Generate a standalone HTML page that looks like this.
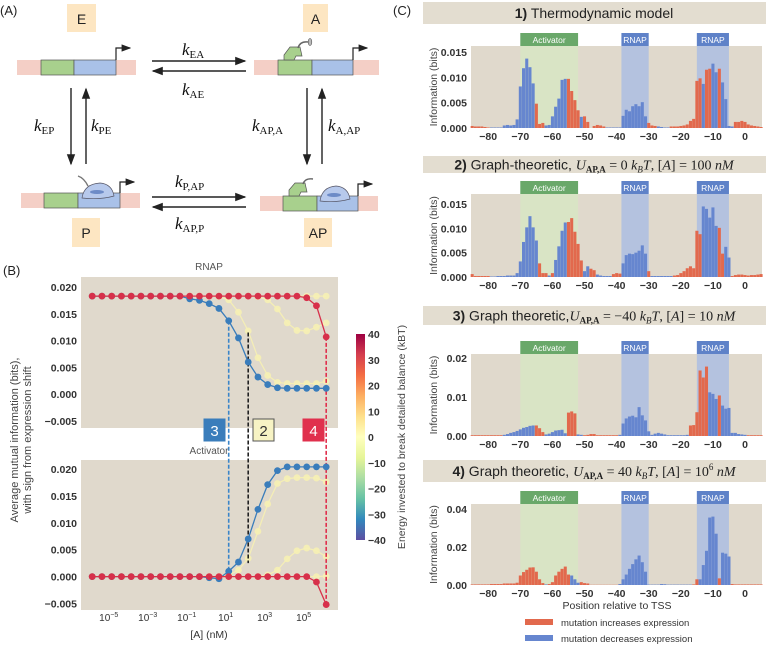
<!DOCTYPE html>
<html><head><meta charset="utf-8">
<style>
html,body{margin:0;padding:0;background:#fff;}
svg{display:block;font-family:"Liberation Sans",sans-serif;}
.tk{font-size:10.5px;font-weight:bold;fill:#333;}
.ser{font-family:"Liberation Serif",serif;}
</style></head>
<body>
<svg id="fig" width="766" height="645" viewBox="0 0 766 645" xmlns="http://www.w3.org/2000/svg">
<defs>
<marker id="ah" markerWidth="8" markerHeight="8" refX="7" refY="4" orient="auto"><path d="M0,1 L8,4 L0,7 Z" fill="#222"/></marker>
<linearGradient id="cbg" x1="0" y1="1" x2="0" y2="0">
<stop offset="0" stop-color="#5e4fa2"/><stop offset="0.1" stop-color="#3288bd"/><stop offset="0.2" stop-color="#66c2a5"/><stop offset="0.3" stop-color="#abdda4"/><stop offset="0.4" stop-color="#e6f598"/><stop offset="0.5" stop-color="#ffffbf"/><stop offset="0.6" stop-color="#fee08b"/><stop offset="0.7" stop-color="#fdae61"/><stop offset="0.8" stop-color="#f46d43"/><stop offset="0.9" stop-color="#d53e4f"/><stop offset="1" stop-color="#9e0142"/>
</linearGradient>
</defs>

<!-- Panel A -->
<g>
<text x="0" y="15" font-size="13" fill="#222">(A)</text>
<g>
<rect x="67" y="4" width="29" height="28" fill="#fde6c2"/>
<text x="81.5" y="24" font-size="14" text-anchor="middle" fill="#222">E</text>
<rect x="17" y="60" width="119" height="15" fill="#f4cfc6"/>
<rect x="41" y="60" width="33" height="15" fill="#a8d08d" stroke="#555" stroke-width="0.7"/>
<rect x="74" y="60" width="42" height="15" fill="#a9c1e8" stroke="#555" stroke-width="0.7"/>
<path d="M116,60 V48 H130" fill="none" stroke="#222" stroke-width="1.2" marker-end="url(#ah)"/>
</g>
<g>
<rect x="303" y="4" width="25" height="28" fill="#fde6c2"/>
<text x="315.5" y="24" font-size="14" text-anchor="middle" fill="#222">A</text>
<rect x="254" y="60" width="125" height="15" fill="#f4cfc6"/>
<rect x="278" y="60" width="34" height="15" fill="#a8d08d" stroke="#555" stroke-width="0.7"/>
<rect x="312" y="60" width="41" height="15" fill="#a9c1e8" stroke="#555" stroke-width="0.7"/>
<path d="M284,60 V55 L290,47 H300 L302,56 H296 L294,60 Z" fill="#a8d08d" stroke="#555" stroke-width="0.7"/>
<path d="M298,48 Q300,41 308,42" fill="none" stroke="#666" stroke-width="1.5"/>
<ellipse cx="310" cy="42" rx="1.8" ry="3.5" fill="#bbb" stroke="#555" stroke-width="0.6"/>
<path d="M353,60 V48 H367" fill="none" stroke="#222" stroke-width="1.2" marker-end="url(#ah)"/>
</g>
<g>
<rect x="72" y="218" width="28" height="29" fill="#fde6c2"/>
<text x="86" y="238" font-size="14" text-anchor="middle" fill="#222">P</text>
<rect x="21" y="193" width="119" height="15" fill="#f4cfc6"/>
<rect x="44" y="193" width="34" height="15" fill="#a8d08d" stroke="#555" stroke-width="0.7"/>
<rect x="78" y="193" width="42" height="15" fill="#a9c1e8" stroke="#555" stroke-width="0.7"/>
<path d="M82,198 Q84,184 100,183 Q112,184 114,196 Q100,200 82,198 Z" fill="#b7c9ec" stroke="#556" stroke-width="0.7"/>
<ellipse cx="97" cy="192" rx="7" ry="2" fill="#6d8bc7"/>
<path d="M88,186 Q84,178 78,176" fill="none" stroke="#777" stroke-width="1.4"/>
<path d="M120,193 V182 H134" fill="none" stroke="#222" stroke-width="1.2" marker-end="url(#ah)"/>
</g>
<g>
<rect x="304" y="218" width="28" height="29" fill="#fde6c2"/>
<text x="318" y="238" font-size="14" text-anchor="middle" fill="#222">AP</text>
<rect x="260" y="196" width="118" height="15" fill="#f4cfc6"/>
<rect x="283" y="196" width="34" height="15" fill="#a8d08d" stroke="#555" stroke-width="0.7"/>
<rect x="317" y="196" width="41" height="15" fill="#a9c1e8" stroke="#555" stroke-width="0.7"/>
<path d="M289,196 V190 L295,183 H305 L307,192 H301 L299,196 Z" fill="#a8d08d" stroke="#555" stroke-width="0.7"/>
<path d="M320,201 Q322,187 336,186 Q348,187 350,199 Q336,203 320,201 Z" fill="#b7c9ec" stroke="#556" stroke-width="0.7"/>
<ellipse cx="334" cy="195" rx="7" ry="2" fill="#6d8bc7"/>
<path d="M303,184 Q305,178 313,179" fill="none" stroke="#666" stroke-width="1.4"/>
<path d="M358,196 V184 H372" fill="none" stroke="#222" stroke-width="1.2" marker-end="url(#ah)"/>
</g>
<g stroke="#222" stroke-width="1.4">
<line x1="152" y1="61" x2="245" y2="61" marker-end="url(#ah)"/>
<line x1="246" y1="71" x2="153" y2="71" marker-end="url(#ah)"/>
<line x1="71" y1="88" x2="71" y2="164" marker-end="url(#ah)"/>
<line x1="86" y1="164" x2="86" y2="89" marker-end="url(#ah)"/>
<line x1="307" y1="88" x2="307" y2="164" marker-end="url(#ah)"/>
<line x1="322" y1="164" x2="322" y2="89" marker-end="url(#ah)"/>
<line x1="152" y1="197" x2="245" y2="197" marker-end="url(#ah)"/>
<line x1="246" y1="207" x2="153" y2="207" marker-end="url(#ah)"/>
</g>
<g class="ser" font-size="17" fill="#111">
<text x="182" y="55"><tspan font-style="italic">k</tspan><tspan font-size="11" dy="3">EA</tspan></text>
<text x="182" y="95"><tspan font-style="italic">k</tspan><tspan font-size="11" dy="3">AE</tspan></text>
<text x="34" y="131"><tspan font-style="italic">k</tspan><tspan font-size="11" dy="3">EP</tspan></text>
<text x="91" y="131"><tspan font-style="italic">k</tspan><tspan font-size="11" dy="3">PE</tspan></text>
<text x="252" y="131"><tspan font-style="italic">k</tspan><tspan font-size="11" dy="3">AP,A</tspan></text>
<text x="328" y="131"><tspan font-style="italic">k</tspan><tspan font-size="11" dy="3">A,AP</tspan></text>
<text x="175" y="187"><tspan font-style="italic">k</tspan><tspan font-size="11" dy="3">P,AP</tspan></text>
<text x="175" y="229"><tspan font-style="italic">k</tspan><tspan font-size="11" dy="3">AP,P</tspan></text>
</g>
</g>

<text x="3" y="275" font-size="13" fill="#222">(B)</text>
<text x="393" y="15" font-size="13" fill="#222">(C)</text>
<g id="panelB"></g>
<g id="panelC"></g>
</svg>

<script>
// ---------- Panel B data ----------
const logConc = [-6,-5.5,-5,-4.5,-4,-3.5,-3,-2.5,-2,-1.5,-1,-0.5,0,0.5,1,1.5,2,2.5,3,3.5,4,4.5,5,5.5,6];
const rnapRed = [0.0183,0.0183,0.0183,0.0183,0.0183,0.0183,0.0183,0.0183,0.0183,0.0183,0.0183,0.0183,0.0183,0.0183,0.0183,0.0183,0.0183,0.0183,0.0183,0.0183,0.0183,0.0183,0.0180,0.0165,0.0107];
const rnapBlue = [0.0183,0.0183,0.0183,0.0183,0.0183,0.0183,0.0183,0.0183,0.0183,0.0183,0.0178,0.0175,0.0169,0.0160,0.0137,0.0105,0.0060,0.0032,0.0018,0.0012,0.0011,0.0011,0.0011,0.0011,0.0011];
const rnapYellowA = [0.0183,0.0183,0.0183,0.0183,0.0183,0.0183,0.0183,0.0183,0.0183,0.0183,0.0183,0.0183,0.0183,0.0182,0.0176,0.0153,0.0118,0.0068,0.0035,0.0022,0.0020,0.0020,0.0020,0.0020,0.0024];
const rnapYellowB = [0.0183,0.0183,0.0183,0.0183,0.0183,0.0183,0.0183,0.0183,0.0183,0.0183,0.0183,0.0183,0.0183,0.0183,0.0183,0.0183,0.0183,0.0182,0.0176,0.0159,0.0133,0.0119,0.0118,0.0125,0.0133];
const rnapYellowC = [0.0183,0.0183,0.0183,0.0183,0.0183,0.0183,0.0183,0.0183,0.0183,0.0183,0.0183,0.0183,0.0183,0.0183,0.0183,0.0183,0.0183,0.0183,0.0183,0.0183,0.0183,0.0183,0.0183,0.0183,0.0183];
const actRed = [0,0,0,0,0,0,0,0,0,0,0,0,0,0,0,0,0,0,0,0,0,0,0,-0.0010,-0.0052];
const actBlue = [0,0,0,0,0,0,0,0,0,0,0,0,-0.0002,-0.0004,0.0010,0.0027,0.0070,0.0125,0.0171,0.0197,0.0204,0.0204,0.0204,0.0204,0.0204];
const actYellowA = [0,0,0,0,0,0,0,0,0,0,0,0,0,0,0.0003,0.0012,0.0034,0.0084,0.0135,0.0173,0.0182,0.0184,0.0184,0.0183,0.0176];
const actYellowB = [0,0,0,0,0,0,0,0,0,0,0,0,0,0,0,0,0,0,0.0003,0.0012,0.0033,0.0048,0.0053,0.0048,0.0037];
const actYellowC = [0,0,0,0,0,0,0,0,0,0,0,0,0,0,0,0,0,0,0,0,0,0,0,0,0.0001];
const bYTicks = [0.020,0.015,0.010,0.005,0.000,-0.005];
const bYTickLabels = ["0.020","0.015","0.010","0.005","0.000","\u22120.005"];
const bXTicks = [-5,-3,-1,1,3,5];
const bXTickLabels = ["\u22125","\u22123","\u22121","1","3","5"];
const cbTicks = [40,30,20,10,0,-10,-20,-30,-40];
const cbTickLabels = ["40","30","20","10","0","\u221210","\u221220","\u221230","\u221240"];

// ---------- Panel C data (signed: + increases expression, - decreases) ----------
const positions = [];
for (let p = -85; p <= 5; p++) positions.push(p);
const info1 = [0.0004,0.0003,0.0003,0.0003,0.0002,0.0001,-0.0001,-0.0001,-0.0001,-0.0001,-0.0005,-0.0006,-0.0005,-0.0006,-0.0017,-0.0082,-0.0118,-0.0137,-0.0120,-0.0088,0.0048,0.0008,0.0010,-0.0005,-0.0006,-0.0023,-0.0042,-0.0058,-0.0095,-0.0097,0.0097,0.0073,0.0055,0.0035,-0.0022,0.0023,0.0012,0,0.0004,0.0006,0.0005,0.0003,-0.0001,-0.0001,-0.0001,-0.0001,-0.0001,-0.0024,-0.0036,-0.0033,-0.0043,-0.0047,-0.0043,-0.0051,-0.0023,0.0010,0.0005,0.0004,-0.0003,-0.0002,-0.0001,-0.0001,0.0003,0.0003,0.0003,0.0004,0.0005,0.0007,0.0014,0.0018,0.0093,0.0098,-0.0087,0.0115,0.0117,-0.0127,-0.0110,0.0117,-0.0090,-0.0057,-0.0004,-0.0003,0.0012,0.0012,0.0014,0.0012,0.0007,0.0005,0.0004,0.0003,0.0002];
const info2 = [0.0006,0.0002,0.0002,0.0002,0.0002,0.0002,-0.0001,-0.0001,-0.0002,-0.0002,-0.0002,-0.0003,-0.0003,-0.0003,-0.0008,-0.0032,-0.0072,-0.0102,-0.0125,-0.0102,-0.0075,0.0028,0.0008,0.0008,-0.0003,0.0008,-0.0035,-0.0063,-0.0095,-0.0112,0.0113,0.0121,0.0093,0.0068,0.0034,-0.0012,-0.0022,0.0017,0.0014,-0.0005,-0.0003,-0.0002,-0.0002,-0.0002,0.0006,0.0008,0.0007,-0.0028,-0.0045,-0.0048,-0.0047,-0.0050,-0.0054,-0.0065,-0.0048,0.0012,-0.0002,-0.0002,-0.0002,-0.0002,-0.0002,-0.0002,-0.0002,0.0003,0.0004,0.0008,0.0012,0.0018,0.0022,0.0018,0.0095,0.0088,-0.0145,-0.0140,-0.0122,-0.0143,-0.0105,0.0101,0.0048,-0.0062,-0.0040,0.0002,0.0004,0.0005,0.0005,0.0004,0.0003,0.0004,0.0004,0.0005,0.0006];
const info3 = [0.0002,0.0002,0.0002,0.0002,0.0002,0.0002,0.0002,0.0002,0.0002,0.0002,-0.0003,-0.0005,-0.0008,-0.0010,-0.0013,-0.0017,-0.0021,-0.0023,-0.0026,-0.0027,0.0027,0.0020,0.0010,-0.0004,-0.0006,-0.0010,-0.0014,-0.0015,-0.0016,-0.0007,0.0060,0.0063,0.0058,-0.0004,-0.0003,0.0002,0.0003,0.0005,0.0005,0.0002,0.0002,0.0002,0.0002,0.0002,0.0002,0.0002,-0.0003,-0.0032,-0.0045,-0.0050,-0.0052,-0.0048,-0.0074,-0.0053,-0.0040,-0.0012,-0.0003,-0.0006,-0.0008,-0.0006,-0.0004,-0.0002,-0.0002,-0.0002,-0.0002,-0.0002,-0.0002,-0.0003,0.0027,0.0028,0.0061,0.0168,0.0150,0.0178,-0.0112,-0.0108,-0.0095,0.0104,-0.0078,-0.0070,-0.0072,-0.0008,-0.0008,-0.0005,-0.0004,-0.0003,0.0002,0.0002,0.0002,0.0002,0.0002];
const info4 = [0.0003,0.0003,0.0003,0.0003,0.0003,0.0003,0.0005,0.0005,0.0005,0.0005,0.0008,0.0008,0.0008,0.0008,0.0012,0.0050,0.0068,0.0080,0.0092,0.0093,0.0070,0.0030,0.0010,-0.0003,0.0005,0.0015,0.0050,0.0070,0.0085,0.0097,0.0055,-0.0050,-0.0030,-0.0012,0.0015,0.0010,0.0008,0.0001,0.0001,0.0001,0.0001,0.0001,0.0001,0.0001,0.0001,0.0001,-0.0005,-0.0030,-0.0055,-0.0085,-0.0110,-0.0135,-0.0155,-0.0120,-0.0070,-0.0002,-0.0002,-0.0002,-0.0002,-0.0005,-0.0004,-0.0002,-0.0002,-0.0002,-0.0002,-0.0002,-0.0002,-0.0002,-0.0002,0.0003,0.0030,-0.0030,-0.0105,-0.0180,-0.0355,-0.0360,-0.0270,0.0035,-0.0170,-0.0165,-0.0150,0.0005,0.0003,0.0003,0.0003,0.0003,0.0003,0.0003,0.0003,0.0003,0.0003];
const xTicksC = [-80,-70,-60,-50,-40,-30,-20,-10,0];
const xTickLabelsC = ["\u221280","\u221270","\u221260","\u221250","\u221240","\u221230","\u221220","\u221210","0"];
const yTicks1 = [0,0.005,0.010,0.015];
const yTickLabels1 = ["0.000","0.005","0.010","0.015"];
const yTicks3 = [0,0.01,0.02];
const yTickLabels3 = ["0.00","0.01","0.02"];
const yTicks4 = [0,0.02,0.04];
const yTickLabels4 = ["0.00","0.02","0.04"];
const regionLabels = ["Activator","RNAP","RNAP"];
const regionStarts = [-70,-38.5,-15];
const regionEnds = [-52,-30,-5];

const NS = "http://www.w3.org/2000/svg";
function mk(tag, attrs, parent) {
  const el = document.createElementNS(NS, tag);
  for (const k in attrs) el.setAttribute(k, attrs[k]);
  parent.appendChild(el);
  return el;
}

// ---------- Panel B ----------
const gB = document.getElementById("panelB");
const bx = l => 92.2 + (l + 6) * 19.5;
const yTop = v => 287 + (0.020 - v) * 5360;
const yBot = v => 469 + (0.020 - v) * 5380;

let bgTop = mk("rect", {x:81, y:277, width:257, height:151, fill:"#e0d9cc"}, gB);


let bgBot = mk("rect", {x:81, y:460, width:257, height:150, fill:"#e0d9cc"}, gB);



let t = mk("text", {x:209, y:270, "font-size":10, fill:"#555", "text-anchor":"middle"}, gB);
t.textContent = "RNAP";



bYTicks.forEach((v, i) => {
  const a = mk("text", {x:77, y:yTop(v)+4, class:"tk", "text-anchor":"end"}, gB);
  a.textContent = bYTickLabels[i];
  
  
  const b = mk("text", {x:77, y:yBot(v)+4, class:"tk", "text-anchor":"end"}, gB);
  b.textContent = bYTickLabels[i];
  
  
});
bXTicks.forEach((l, i) => {
  const a = mk("text", {x:bx(l)-3, y:621, "font-size":10, fill:"#333", "text-anchor":"middle"}, gB);
  
  
  const s1 = mk("tspan", {}, a); s1.textContent = "10";
  const s2 = mk("tspan", {dy:-4, "font-size":7}, a); s2.textContent = bXTickLabels[i];
});
let xl = mk("text", {x:209, y:638, "font-size":10.5, fill:"#333", "text-anchor":"middle"}, gB);
xl.textContent = "[A] (nM)";



let yl = mk("text", {transform:"translate(18,440) rotate(-90)", "font-size":11, fill:"#444", "text-anchor":"middle"}, gB);


let yl1 = mk("tspan", {x:0, dy:0}, yl); yl1.textContent = "Average mutual information (bits),";
let yl2 = mk("tspan", {x:0, dy:13}, yl); yl2.textContent = "with sign from expression shift";

function series(vals, yf, color, op, name) {
  const pts = vals.map((v, i) => bx(logConc[i]) + "," + yf(v)).join(" ");
  const pl = mk("polyline", {points:pts, fill:"none", stroke:color, "stroke-width":1.3, opacity:op}, gB);
  
  
  vals.forEach((v, i) => {
    const c = mk("circle", {cx:bx(logConc[i]), cy:yf(v), r:3.4, fill:color, opacity:op}, gB);
    
    
  });
}
const yel = "#f6efb4";
series(rnapYellowC, yTop, yel, 0.9, "rnap-zero-energy-c");
series(rnapYellowB, yTop, yel, 0.9, "rnap-zero-energy-b");
series(rnapYellowA, yTop, yel, 0.9, "rnap-zero-energy-a");
series(actYellowC, yBot, yel, 0.9, "activator-zero-energy-c");
series(actYellowB, yBot, yel, 0.9, "activator-zero-energy-b");
series(actYellowA, yBot, yel, 0.9, "activator-zero-energy-a");

// dashed markers
function dash(l, v1, v2, color, name) {
  const ln = mk("line", {x1:bx(l), x2:bx(l), y1:yTop(v1), y2:yBot(v2), stroke:color, "stroke-width":1.6, "stroke-dasharray":"4,2"}, gB);
  
  
}
dash(1, rnapBlue[14], actBlue[14], "#3a85c9", "case-3-marker-line");
dash(2, 0.0115, 0.0025, "#222", "case-2-marker-line");
dash(6, rnapRed[24], actRed[24], "#e0304d", "case-4-marker-line");

series(rnapBlue, yTop, "#3a7dbb", 1, "rnap-minus-40");
series(actBlue, yBot, "#3a7dbb", 1, "activator-minus-40");
series(rnapRed, yTop, "#d7304a", 1, "rnap-plus-40");
series(actRed, yBot, "#d7304a", 1, "activator-plus-40");

function caseBox(x, label, fill, stroke, tc, name) {
  const g = mk("g", {}, gB);
  
  
  mk("rect", {x:x, y:419, width:21, height:22, fill:fill, stroke:stroke, "stroke-width":1}, g);
  const tx = mk("text", {x:x+10.5, y:436, "font-size":15, fill:tc, "text-anchor":"middle"}, g);
  tx.textContent = label;
}
caseBox(204, "3", "#3a7dbb", "#3a7dbb", "#fff", "case-3-box");
caseBox(253, "2", "#f7f3c4", "#555", "#333", "case-2-box");
caseBox(303, "4", "#e0304d", "#e0304d", "#fff", "case-4-box");
let at = mk("text", {x:209, y:454, "font-size":10, fill:"#555", "text-anchor":"middle"}, gB);
at.textContent = "Activator";



// colorbar
let cb = mk("rect", {x:356, y:334, width:9, height:206, fill:"url(#cbg)"}, gB);


cbTicks.forEach((v, i) => {
  const y = 334 + (40 - v) / 80 * 206;
  const tx = mk("text", {x:368, y:y+4, class:"tk"}, gB);
  tx.textContent = cbTickLabels[i];
  
  
});
let cbl = mk("text", {transform:"translate(405,437) rotate(-90)", "font-size":10.5, fill:"#444", "text-anchor":"middle"}, gB);
cbl.textContent = "Energy invested to break detailed balance (kBT)";



// ---------- Panel C ----------
const gC = document.getElementById("panelC");
const cx = p => 745 + p * 3.21;
const plotsC = [
  {data:info1, top:46, base:128, tickV:0.015, tickY:52, ticks:yTicks1, labels:yTickLabels1, titleY:2, titleH:22, n:"thermodynamic"},
  {data:info2, top:194, base:277, tickV:0.015, tickY:204, ticks:yTicks1, labels:yTickLabels1, titleY:156, titleH:17, n:"graph-theoretic-0"},
  {data:info3, top:354, base:436, tickV:0.02, tickY:358, ticks:yTicks3, labels:yTickLabels3, titleY:306, titleH:19, n:"graph-theoretic-minus-40"},
  {data:info4, top:504, base:585, tickV:0.04, tickY:509, ticks:yTicks4, labels:yTickLabels4, titleY:460, titleH:22, n:"graph-theoretic-plus-40"}
];
const titles = [
  '<tspan font-weight="bold">1)</tspan> Thermodynamic model',
  '<tspan font-weight="bold">2)</tspan> Graph-theoretic, <tspan class="ser" font-style="italic">U</tspan><tspan class="ser" font-size="9" font-weight="bold" dy="3">AP,A</tspan><tspan class="ser" dy="-3"> = 0 </tspan><tspan class="ser" font-style="italic">k</tspan><tspan class="ser" font-size="9" font-style="italic" dy="3">B</tspan><tspan class="ser" font-style="italic" dy="-3">T</tspan><tspan class="ser">, [</tspan><tspan class="ser" font-style="italic">A</tspan><tspan class="ser">] = 100 </tspan><tspan class="ser" font-style="italic">nM</tspan>',
  '<tspan font-weight="bold">3)</tspan> Graph theoretic,<tspan class="ser" font-style="italic">U</tspan><tspan class="ser" font-size="9" font-weight="bold" dy="3">AP,A</tspan><tspan class="ser" dy="-3"> = \u221240 </tspan><tspan class="ser" font-style="italic">k</tspan><tspan class="ser" font-size="9" font-style="italic" dy="3">B</tspan><tspan class="ser" font-style="italic" dy="-3">T</tspan><tspan class="ser">, [</tspan><tspan class="ser" font-style="italic">A</tspan><tspan class="ser">] = 10 </tspan><tspan class="ser" font-style="italic">nM</tspan>',
  '<tspan font-weight="bold">4)</tspan> Graph theoretic, <tspan class="ser" font-style="italic">U</tspan><tspan class="ser" font-size="9" font-weight="bold" dy="3">AP,A</tspan><tspan class="ser" dy="-3"> = 40 </tspan><tspan class="ser" font-style="italic">k</tspan><tspan class="ser" font-size="9" font-style="italic" dy="3">B</tspan><tspan class="ser" font-style="italic" dy="-3">T</tspan><tspan class="ser">, [</tspan><tspan class="ser" font-style="italic">A</tspan><tspan class="ser">] = 10</tspan><tspan class="ser" font-size="9" dy="-6">6</tspan><tspan class="ser" dy="6"> </tspan><tspan class="ser" font-style="italic">nM</tspan>'
];
plotsC.forEach((pc, k) => {
  const g = mk("g", {}, gC);
  
  
  const tb = mk("rect", {x:423, y:pc.titleY, width:343, height:pc.titleH, fill:"#e3ddd0"}, g);
  
  
  const tt = mk("text", {x:594, y:pc.titleY + pc.titleH/2 + 5, "font-size":14, fill:"#222", "text-anchor":"middle"}, g);
  tt.innerHTML = titles[k];
  
  
  const bg = mk("rect", {x:471, y:pc.top, width:291, height:pc.base - pc.top, fill:"#e0d9cc"}, g);
  
  
  regionLabels.forEach((lab, r) => {
    const x0 = cx(regionStarts[r]), x1 = cx(regionEnds[r]);
    const isAct = r === 0;
    const sh = mk("rect", {x:x0, y:pc.top, width:x1 - x0, height:pc.base - pc.top, fill:isAct ? "#d9e4c5" : "#b4c2df"}, g);
    
    
    const lb = mk("rect", {x:x0, y:pc.top - 13, width:x1 - x0, height:13, fill:isAct ? "#6aa86a" : "#5f82c8"}, g);
    
    
    const lt = mk("text", {x:(x0 + x1)/2, y:pc.top - 3, "font-size":8.5, fill:"#fff", "text-anchor":"middle"}, g);
    lt.textContent = lab;
    
    
  });
  const sc = (pc.base - pc.tickY) / pc.tickV;
  pc.data.forEach((v, i) => {
    const h = Math.abs(v) * sc;
    const b = mk("rect", {x:cx(positions[i]) - 1.5, y:pc.base - h, width:3.05, height:h, fill:v >= 0 ? "#e2694d" : "#6686cf"}, g);
    
    
  });
  pc.ticks.forEach((v, i) => {
    const tx = mk("text", {x:467, y:pc.base - v * sc + 4, class:"tk", "text-anchor":"end"}, g);
    tx.textContent = pc.labels[i];
    
    
  });
  xTicksC.forEach((p, i) => {
    const tx = mk("text", {x:cx(p), y:pc.base + 12, class:"tk", "text-anchor":"middle"}, g);
    tx.textContent = xTickLabelsC[i];
    
    
  });
  const yt = mk("text", {transform:"translate(437," + ((pc.top + pc.base)/2) + ") rotate(-90)", "font-size":10.5, fill:"#444", "text-anchor":"middle"}, g);
  yt.textContent = "Information (bits)";
  
  
});
let px = mk("text", {x:617, y:609, "font-size":10.5, fill:"#333", "text-anchor":"middle"}, gC);
px.textContent = "Position relative to TSS";


let lg = mk("g", {}, gC);


let lr = mk("rect", {x:525, y:619, width:28, height:6, fill:"#e2694d"}, lg);


let lrt = mk("text", {x:561, y:626, "font-size":9.5, fill:"#333"}, lg);
lrt.textContent = "mutation increases expression";


let lb2 = mk("rect", {x:525, y:635, width:28, height:6, fill:"#6686cf"}, lg);


let lbt = mk("text", {x:561, y:642, "font-size":9.5, fill:"#333"}, lg);
lbt.textContent = "mutation decreases expression";


</script>
</body></html>
